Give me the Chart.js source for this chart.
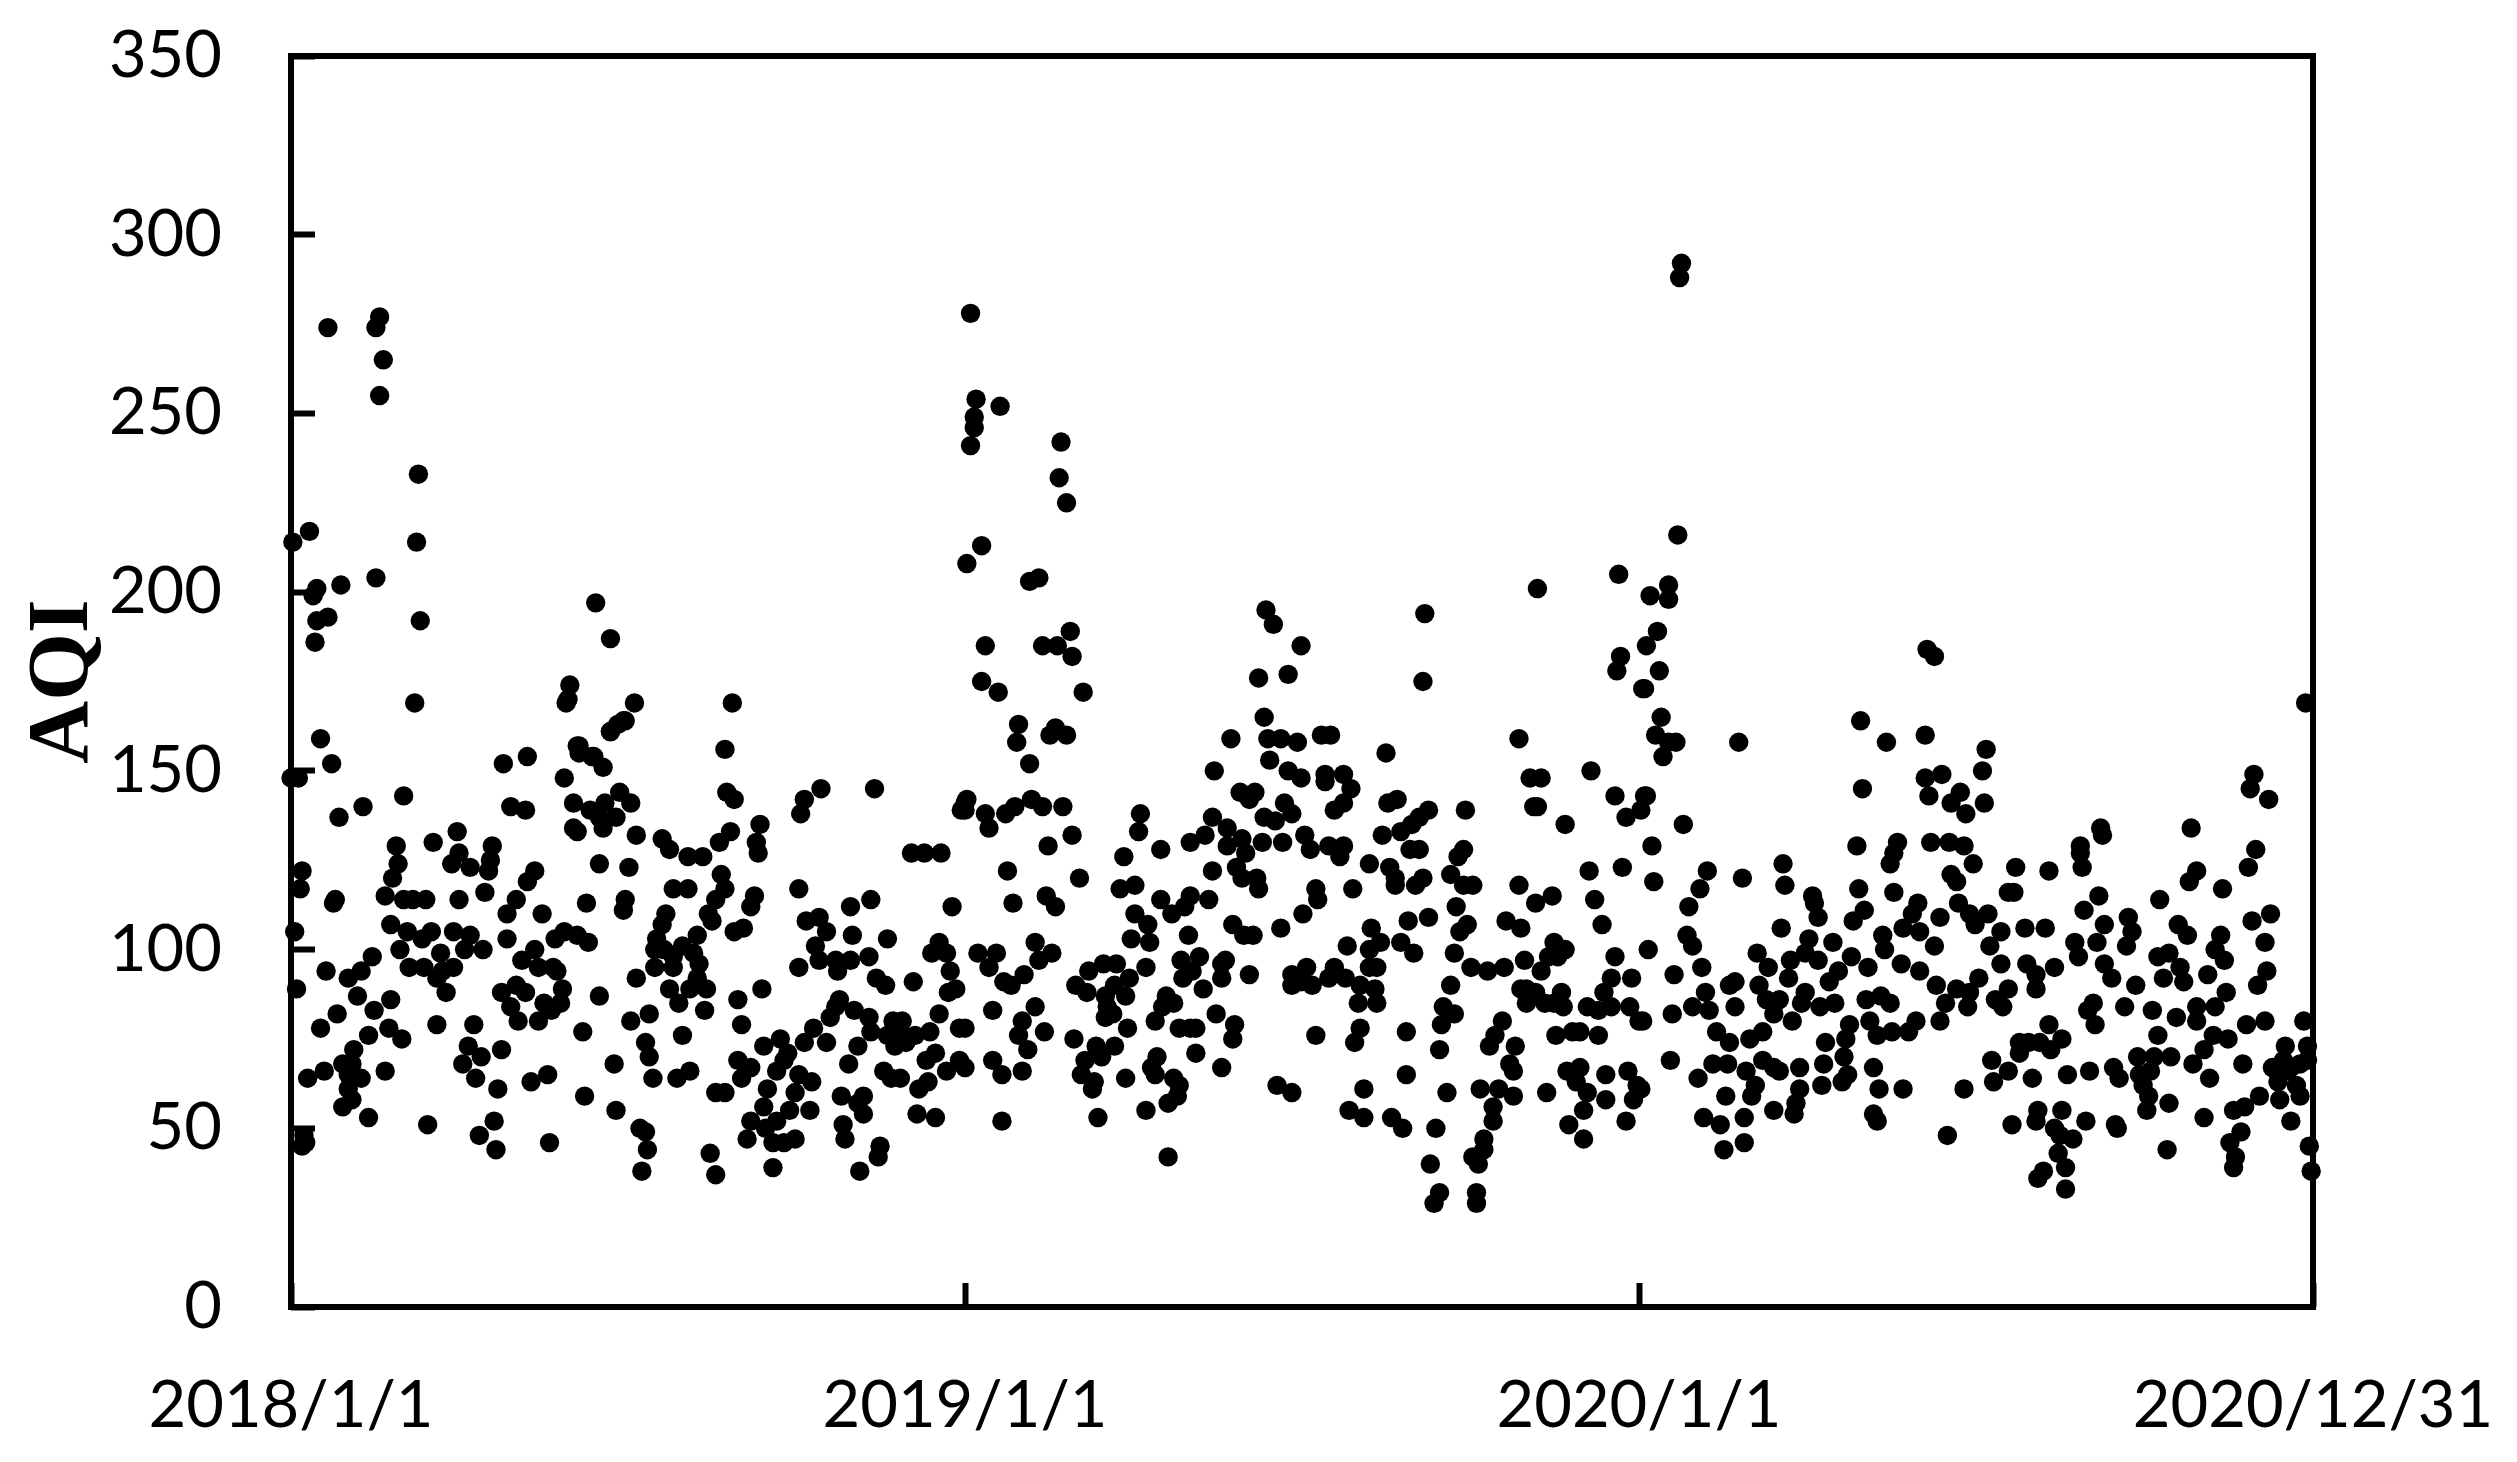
<!DOCTYPE html>
<html>
<head>
<meta charset="utf-8">
<style>html,body{margin:0;padding:0;background:#fff}canvas{display:block}</style>
<script src="https://cdn.jsdelivr.net/npm/chart.js@4"></script>
</head>
<body>
<canvas id="c" width="2517" height="1462"></canvas>
<script>
// Each reading: [days since 2018/1/1, AQI]
const readings2018 = [[67,169],[149,169],[186,169],[239,169],[16,159],[22,152],[0,148],[4,148],[115,152],[128,154],[173,161],[180,164],[155,157],[156,155],[164,154],[169,151],[148,148],[235,156],[236,144],[240,142],[61,143],[39,140],[26,137],[119,140],[127,139],[153,141],[162,139],[170,141],[178,144],[184,141],[176,137],[167,137],[169,134],[153,134],[155,133],[187,132],[278,142],[276,138],[287,145],[316,145],[365,141],[363,139],[254,135],[238,133],[232,130],[252,130],[253,127],[201,131],[205,128],[215,126],[223,126],[57,129],[77,130],[90,133],[109,129],[91,127],[58,124],[87,124],[97,123],[108,125],[107,122],[55,120],[167,124],[183,123],[132,122],[128,119],[6,122],[5,117],[336,127],[343,127],[352,127],[233,121],[235,117],[230,114],[226,110],[228,108],[207,117],[215,117],[275,117],[251,115],[249,112],[245,106],[240,105],[23,113],[24,114],[51,115],[61,114],[66,114],[73,114],[91,114],[105,116],[122,114],[117,110],[136,110],[160,113],[181,114],[180,111],[203,110],[201,107],[314,114],[303,112],[358,112],[286,109],[279,108],[290,105],[304,104],[323,103],[2,105],[54,107],[63,105],[71,103],[76,105],[88,105],[97,104],[94,100],[104,100],[117,103],[143,103],[148,105],[155,104],[161,102],[132,100],[125,97],[59,100],[81,99],[220,104],[212,101],[198,103],[197,100],[202,100],[207,98],[218,99],[221,96],[197,95],[207,95],[44,98],[38,94],[31,92],[19,94],[64,95],[72,95],[82,94],[88,95],[79,92],[84,88],[134,95],[142,95],[144,94],[187,92],[220,92],[3,89],[284,101],[286,97],[295,97],[296,94],[303,97],[313,98],[275,95],[317,92],[322,90],[337,91],[351,102],[347,99],[355,99],[357,94],[360,89],[356,88],[205,89],[216,89],[225,89],[210,85],[224,83],[255,89],[242,86],[244,79],[122,90],[114,88],[127,88],[119,84],[147,89],[137,85],[146,85],[141,83],[167,87],[123,80],[134,80],[36,87],[45,83],[54,86],[25,82],[16,78],[79,79],[99,79],[158,77],[184,80],[194,82],[192,74],[194,70],[212,76],[42,76],[53,78],[60,75],[34,72],[28,68],[33,68],[31,65],[38,64],[31,61],[33,58],[28,56],[51,66],[18,66],[9,64],[42,53],[96,73],[93,68],[103,70],[114,72],[100,64],[112,61],[130,63],[139,65],[175,68],[159,59],[176,55],[196,64],[209,64],[216,66],[230,60],[235,60],[74,51],[110,52],[102,48],[111,44],[140,46],[189,50],[192,49],[193,44],[190,38],[227,43],[230,37],[8,46],[7,48],[6,45],[256,73],[265,75],[269,71],[278,74],[283,78],[290,74],[292,81],[297,86],[295,84],[305,83],[313,81],[314,77],[307,73],[302,68],[326,80],[331,80],[326,77],[323,76],[330,77],[327,73],[333,74],[338,76],[346,77],[351,82],[362,78],[349,71],[344,69],[362,69],[355,66],[242,69],[249,67],[244,64],[263,66],[267,69],[275,65],[282,63],[258,61],[273,60],[256,56],[270,55],[281,55],[249,52],[263,52],[257,50],[247,47],[261,46],[267,46],[273,47],[261,39],[298,59],[310,59],[307,57],[310,54],[299,51],[300,47],[319,45],[318,42],[308,38],[321,66],[325,64],[330,64],[345,63],[340,61],[339,54],[349,53],[20,274],[48,277],[46,274],[50,265],[48,255],[69,233],[10,217],[1,214],[68,214],[27,202],[46,204],[14,201],[12,199],[20,193],[14,192],[70,192],[13,186],[165,197],[173,187],[151,174],[150,170],[181,164],[177,163],[173,161],[156,157],[163,154]];

const readings2019 = [[368,278],[371,254],[384,252],[370,249],[370,246],[368,241],[417,242],[416,232],[420,225],[374,213],[366,208],[405,204],[400,203],[528,195],[532,191],[614,194],[547,185],[376,185],[422,189],[407,185],[415,185],[423,182],[374,175],[383,172],[429,172],[524,176],[540,177],[613,175],[394,163],[393,158],[414,162],[411,160],[420,160],[509,159],[527,165],[529,159],[536,159],[545,158],[558,160],[563,160],[593,155],[665,159],[675,201],[400,152],[500,150],[530,153],[540,150],[547,148],[560,149],[560,147],[570,149],[574,145],[514,144],[522,144],[519,142],[671,148],[677,148],[704,150],[673,140],[675,140],[717,143],[723,137],[636,139],[599,142],[594,141],[570,141],[565,139],[616,139],[611,137],[607,135],[601,133],[591,132],[366,142],[365,139],[376,138],[378,134],[387,138],[392,140],[401,142],[407,140],[418,140],[423,132],[410,129],[460,138],[459,133],[471,128],[451,126],[487,130],[495,132],[499,137],[507,134],[515,131],[507,129],[517,127],[527,137],[533,136],[538,141],[542,138],[526,130],[537,130],[549,132],[552,128],[562,129],[570,129],[568,126],[499,122],[512,123],[515,120],[523,120],[524,117],[584,124],[595,123],[598,120],[598,118],[606,128],[611,128],[613,120],[609,118],[635,128],[632,126],[628,121],[635,118],[640,118],[631,112],[690,135],[721,123],[703,122],[665,118],[683,115],[674,113],[706,114],[710,107],[388,122],[391,113],[409,115],[414,112],[427,120],[449,117],[457,118],[471,114],[477,110],[487,115],[484,112],[497,114],[457,110],[464,107],[455,103],[465,102],[510,107],[516,104],[521,104],[536,106],[548,110],[555,117],[556,114],[575,117],[486,104],[585,106],[605,108],[616,109],[637,107],[633,105],[590,102],[584,100],[601,102],[608,99],[572,101],[630,99],[658,108],[666,106],[684,102],[690,100],[681,98],[686,98],[717,98],[668,97],[677,94],[403,102],[412,99],[405,97],[372,99],[382,99],[378,95],[397,93],[386,91],[390,90],[403,84],[396,80],[394,76],[408,77],[380,83],[399,72],[380,69],[385,65],[396,66],[385,52],[365,78],[365,67],[440,96],[447,96],[432,94],[463,95],[454,92],[425,90],[431,88],[446,90],[452,87],[441,87],[442,84],[441,81],[445,82],[453,78],[482,97],[492,98],[483,92],[488,94],[494,89],[504,96],[506,97],[504,92],[519,93],[474,87],[478,85],[472,84],[468,80],[501,82],[481,78],[490,78],[487,78],[511,79],[510,75],[490,71],[504,67],[469,70],[466,67],[468,65],[452,64],[424,75],[436,73],[446,73],[439,70],[430,69],[428,65],[435,63],[434,61],[478,64],[481,62],[480,59],[475,57],[463,55],[437,53],[475,42],[542,93],[542,90],[550,95],[547,91],[553,90],[562,92],[565,95],[571,92],[579,90],[587,89],[578,85],[588,85],[584,95],[588,95],[579,78],[576,74],[555,76],[604,77],[604,65],[581,61],[534,62],[542,60],[573,55],[581,53],[596,53],[602,50],[628,90],[624,84],[630,82],[623,79],[622,72],[626,60],[620,50],[617,40],[622,32],[619,29],[642,32],[642,29],[639,95],[648,94],[657,95],[669,89],[666,89],[674,88],[669,85],[679,85],[688,88],[689,84],[684,85],[656,80],[652,76],[649,73],[663,73],[660,68],[662,66],[644,61],[654,61],[662,59],[651,56],[651,52],[680,60],[646,47],[646,44],[640,42],[643,40],[685,76],[694,77],[698,77],[708,76],[702,84],[708,83],[715,84],[711,88],[715,92],[726,92],[725,84],[691,66],[698,67],[696,63],[702,60],[700,55],[712,58],[712,65],[724,66],[729,62],[727,58],[723,52],[692,51],[700,47]];

const readings2020 = [[753,292],[752,288],[751,216],[746,202],[736,199],[746,198],[740,189],[734,185],[741,178],[733,173],[742,165],[739,160],[750,158],[746,158],[784,158],[850,164],[864,158],[885,160],[918,156],[886,184],[890,182],[1091,169],[719,205],[720,182],[718,178],[732,173],[743,154],[916,150],[894,149],[885,148],[887,143],[904,144],[899,141],[907,138],[917,141],[851,145],[734,143],[733,143],[731,139],[1063,149],[1061,145],[1071,142],[980,134],[981,132],[1029,134],[754,135],[737,129],[848,129],[870,130],[868,127],[866,124],[888,130],[898,130],[906,129],[911,124],[969,129],[969,127],[970,123],[1064,128],[1060,123],[934,123],[952,122],[1032,122],[1028,119],[767,122],[763,117],[738,119],[786,120],[808,124],[809,118],[899,121],[902,119],[849,117],[868,116],[930,116],[933,116],[1046,117],[757,112],[824,115],[825,113],[881,113],[878,110],[852,111],[846,108],[827,109],[903,113],[909,110],[919,110],[912,107],[893,109],[979,115],[971,111],[1012,114],[1072,110],[1062,108],[995,109],[982,107],[1022,107],[807,106],[756,104],[759,101],[822,103],[835,102],[862,104],[863,100],[873,106],[882,105],[890,101],[926,105],[939,106],[950,106],[920,101],[966,102],[968,98],[978,102],[997,105],[994,101],[1027,104],[1017,99],[1045,104],[1042,100],[1069,102],[735,100],[794,99],[800,95],[812,97],[820,99],[827,97],[811,92],[845,98],[854,95],[872,96],[882,94],[764,95],[749,93],[926,96],[940,96],[945,93],[955,95],[982,96],[986,92],[1011,98],[1014,92],[1023,95],[1025,91],[1047,97],[1038,93],[1070,94],[1065,90],[999,90],[838,94],[833,91],[782,91],[779,90],[795,90],[766,88],[820,88],[891,90],[902,89],[914,92],[909,88],[930,89],[945,89],[1048,88],[759,84],[768,83],[748,82],[782,84],[799,86],[806,86],[803,82],[818,85],[828,84],[836,85],[853,86],[861,87],[866,85],[896,85],[908,84],[923,86],[927,84],[976,85],[973,83],[993,84],[1008,83],[1032,84],[1042,84],[1021,81],[1032,80],[772,77],[779,74],[790,75],[797,77],[813,80],[844,79],[855,80],[859,76],[867,77],[876,77],[880,80],[893,80],[977,79],[1011,76],[952,79],[1059,79],[1069,80],[1090,80],[732,80],[730,80],[831,74],[842,75],[841,70],[936,74],[941,74],[947,74],[953,72],[959,75],[936,71],[1041,76],[1049,75],[1036,72],[1092,73],[747,69],[770,68],[778,68],[797,69],[803,67],[806,66],[817,67],[830,68],[857,67],[788,66],[762,64],[921,69],[930,66],[922,63],[943,64],[962,65],[974,66],[987,67],[990,64],[1000,70],[1009,70],[1018,70],[1001,65],[1007,66],[1030,68],[1039,64],[1057,68],[1080,73],[1073,67],[1079,69],[1083,67],[1076,63],[1088,68],[1092,69],[1086,62],[1080,66],[1088,59],[1077,58],[1066,59],[1058,56],[1052,55],[1083,52],[1056,49],[1050,46],[1053,42],[1052,39],[1093,45],[1094,38],[731,61],[793,62],[791,59],[777,59],[817,61],[815,57],[814,54],[803,55],[829,62],[840,63],[843,65],[860,61],[873,61],[906,61],[765,53],[774,51],[787,53],[776,44],[787,46],[857,54],[859,52],[897,48],[932,51],[946,55],[945,52],[959,55],[972,52],[955,50],[958,48],[965,47],[957,43],[961,39],[961,33],[949,38],[946,36],[988,51],[989,50],[1005,55],[1006,59],[1003,62],[1017,57],[1036,53],[1016,44]];

const xTickDays = [0, 365, 730, 1095];
const xTickLabels = ['2018/1/1', '2019/1/1', '2020/1/1', '2020/12/31'];
const yTicks = [0, 50, 100, 150, 200, 250, 300, 350];
const yTitle = 'AQI';

const toPoint = ([x, y]) => ({x, y});
const allReadings = [...readings2018, ...readings2019, ...readings2020].map(toPoint);

const frame = {
  id: 'frame',
  afterDatasetsDraw(chart) {
    const {left, right, top, bottom} = chart.chartArea;
    const ctx = chart.ctx;
    ctx.save();
    ctx.strokeStyle = '#000';
    ctx.lineWidth = 6;
    ctx.strokeRect(left, top, right - left, bottom - top);
    ctx.restore();
  }
};

const noScalePadding = s => { s.paddingTop = s.paddingBottom = s.paddingLeft = s.paddingRight = 0; };

new Chart(document.getElementById('c'), {
  type: 'scatter',
  data: { datasets: [{
    data: allReadings,
    backgroundColor: '#000',
    borderWidth: 0,
    pointRadius: 9.7,
    clip: false
  }]},
  plugins: [frame],
  options: {
    responsive: false,
    animation: false,
    layout: { padding: { left: 0, right: 204, top: 56, bottom: 0 } },
    plugins: { legend: { display: false }, tooltip: { enabled: false } },
    scales: {
      x: {
        type: 'linear', min: 0, max: 1095,
        afterBuildTicks(s) { s.ticks = xTickDays.map(value => ({value})); },
        afterFit(s) { s.height = 155; noScalePadding(s); },
        border: { display: false },
        grid: { drawOnChartArea: false, drawTicks: true, tickLength: -24, tickWidth: 6, tickColor: '#000' },
        ticks: {
          autoSkip: false, maxRotation: 0, minRotation: 0, padding: 84, color: '#000',
          font: { family: 'Lato', size: 65 },
          callback: v => xTickLabels[xTickDays.indexOf(v)]
        }
      },
      y: {
        type: 'linear', min: 0, max: 350,
        afterBuildTicks(s) { s.ticks = yTicks.map(value => ({value})); },
        afterFit(s) { s.width = 291; noScalePadding(s); },
        border: { display: false },
        grid: { drawOnChartArea: false, drawTicks: true, tickLength: -24, tickWidth: 6, tickColor: '#000' },
        title: { display: true, text: yTitle, color: '#000', padding: { top: 12, bottom: 0 },
                 font: { family: 'Liberation Serif', size: 87, weight: 'bold' } },
        ticks: { padding: 93, color: '#000', font: { family: 'Lato', size: 65 } }
      }
    }
  }
});
</script>
</body>
</html>
